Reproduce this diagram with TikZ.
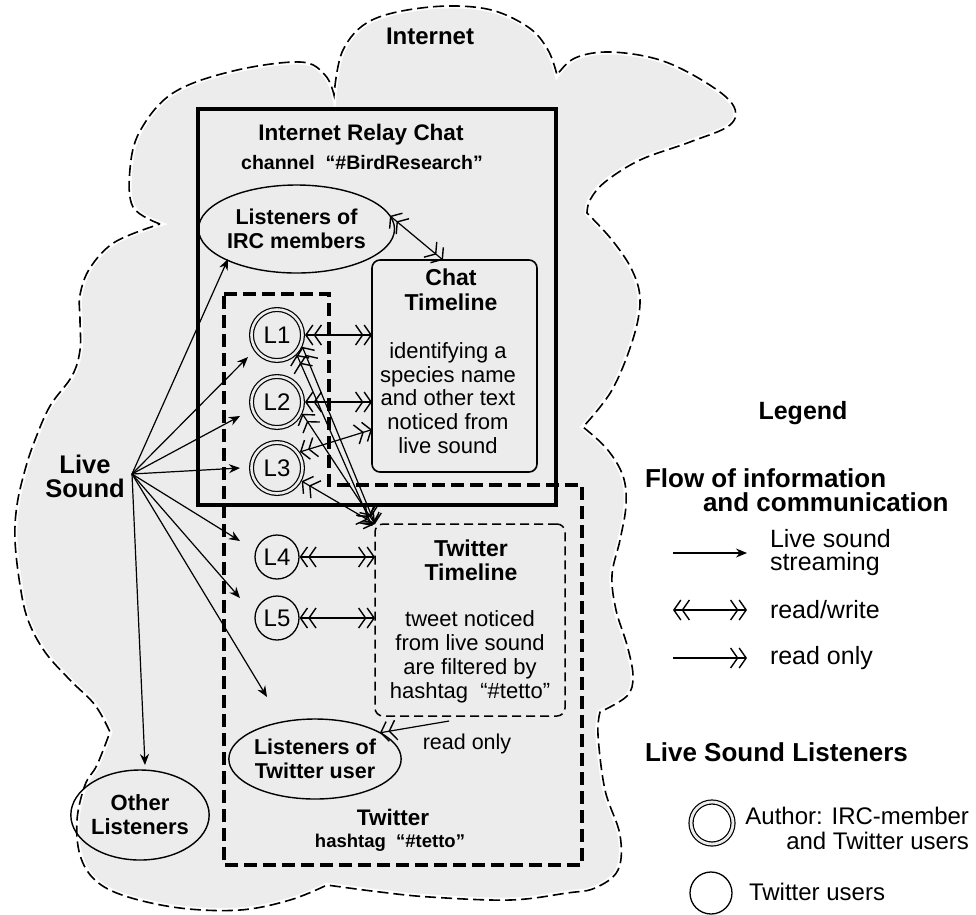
\documentclass[tikz,border=0pt]{standalone}
\usepackage{fontspec}
\setmainfont{Liberation Sans}
\usetikzlibrary{arrows.meta,calc,shapes.geometric}
\definecolor{cloudgrey}{RGB}{236,236,236}
\newcommand\myfs[2]{\fontsize{#1pt}{#2pt}\selectfont}
\begin{document}
\begin{tikzpicture}[x=1pt,y=-1pt,
  every node/.style={inner sep=0pt, outer sep=0pt},
  cloudline/.style={dash pattern=on 11pt off 5pt, line width=1.6pt},
  ircbox/.style={draw, rectangle, line width=3.2pt},
  twline/.style={dash pattern=on 13pt off 6pt, line width=3.3pt},
  ttbox/.style={draw, rectangle, rounded corners=8pt, dash pattern=on 9pt off 5pt, line width=1.5pt},
  chatbox/.style={draw, rectangle, rounded corners=8pt, line width=1.6pt},
  oval/.style={draw, ellipse, line width=1.4pt, align=center, font=\myfs{21.5}{23.5}\bfseries},
  auth/.style={draw, circle, line width=1.2pt, double=cloudgrey, double distance=2.6pt, minimum size=51pt, outer sep=2.5pt, font=\myfs{24}{26}},
  twc/.style={draw, circle, line width=1.3pt, minimum size=44pt, outer sep=0.6pt, font=\myfs{24}{26}},
  stream/.style={line width=1.2pt, -{Stealth[length=11pt,width=9pt]}},
  rw/.style={line width=1.2pt, {Straight Barb[length=7pt,width=20pt,line width=1.4pt] Straight Barb[length=7pt,width=20pt,line width=1.4pt]}-{Straight Barb[length=7pt,width=20pt,line width=1.4pt] Straight Barb[length=7pt,width=20pt,line width=1.4pt]}},
  ro/.style={line width=1.2pt, -{Straight Barb[length=7pt,width=20pt,line width=1.4pt] Straight Barb[length=7pt,width=20pt,line width=1.4pt]}},
  bt/.style={font=\myfs{#1}{24}\bfseries, align=center},
  rt/.style={font=\myfs{#1}{24}, align=center}
]
\useasboundingbox (0,0) rectangle (976,914);

% cloud
\path[fill=cloudgrey, postaction={draw=white, line width=5pt}, postaction={draw=black, cloudline}]
  plot[smooth, tension=0.6] coordinates {(160,224) (133,207) (130,169) (140,131) (173,93) (233,71) (300,62) (325,75) (334,95)}
  -- plot[smooth, tension=0.6] coordinates {(334,95) (343,50) (372,20) (430,7) (487,9) (528,27) (548,50) (557,75)}
  -- plot[smooth, tension=0.6] coordinates {(557,75) (575,58) (610,52) (660,60) (705,82) (733,105) (730,125) (690,142) (640,160) (605,182) (590,200) (587,213)}
  -- plot[smooth, tension=0.6] coordinates {(587,213) (612,240) (632,270) (640,300) (633,339) (612,390) (583,427)}
  -- plot[smooth, tension=0.6] coordinates {(583,427) (607,449) (623,476) (626,505) (620,540) (612,575) (616,610) (627,645) (633,676) (627,696) (600,712)}
  -- plot[smooth, tension=0.6] coordinates {(600,712) (598,735) (605,790) (620,835) (618,870) (595,888) (567,893) (510,900) (430,897) (380,892) (327,885)}
  -- plot[smooth, tension=0.6] coordinates {(327,885) (290,900) (240,910) (180,908) (125,896) (95,880) (80,855) (77,820) (85,785) (97,765) (110,732)}
  -- plot[smooth, tension=0.6] coordinates {(110,732) (95,705) (70,680) (45,652) (28,620) (20,585) (15,540) (17,505) (25,470) (35,440) (50,406) (72,376) (80,350) (80,320) (80,295) (90,268) (115,242) (160,224)}
  -- cycle;

\node[bt=24] (inet) at (430,36) {Internet};

% IRC box
\node[ircbox, minimum width=358pt, minimum height=396pt] (irc) at (377,307) {};
\node[bt=22.5] (irct) at (361,135) {Internet Relay Chat};
\node[bt=19.5] (ircc) at (362,163) {channel\ \ “\#BirdResearch”};
\node[oval, minimum width=161pt, minimum height=88pt] (ircell) at (296.5,229) {Listeners of\\IRC members};

% chat timeline
\node[chatbox, minimum width=165pt, minimum height=212pt] (chat) at (454.5,366) {};
\node[font=\myfs{23}{25}\bfseries, align=center] (chatt) at (451,290) {Chat\\Timeline};
\node[font=\myfs{22}{23.8}, align=center] (chatb) at (448,398) {identifying a\\species name\\and other text\\noticed from\\live sound};

% twitter region
\draw[twline] (224,294) -- (329,294) -- (329,485) -- (582,485) -- (582,865) -- (224,865) -- cycle;

% listeners
\node[auth] (L1) at (277,335) {L1};
\node[auth] (L2) at (277,402) {L2};
\node[auth] (L3) at (277,468) {L3};
\node[twc] (L4) at (277,557) {L4};
\node[twc] (L5) at (277,618) {L5};

% twitter timeline
\node[ttbox, minimum width=190pt, minimum height=192pt] (tt) at (470,620) {};
\node[font=\myfs{23}{24}\bfseries, align=center] (ttt) at (471,560) {Twitter\\Timeline};
\node[font=\myfs{22}{24}, align=center] (ttb) at (470,657) {tweet noticed\\from live sound\\are filtered by\\hashtag\ \ “\#tetto”};

\node[oval, minimum width=154pt, minimum height=80pt] (twell) at (315,759) {Listeners of\\Twitter user};
\node[rt=21.5] (rolab) at (467,744) {read only};
\node[bt=22.5] (twt) at (393,817) {Twitter};
\node[bt=18.5] (twh) at (390,843) {hashtag\ \ “\#tetto”};

\node[oval, font=\myfs{22}{24}\bfseries, minimum width=114pt, minimum height=90pt] (oth) at (140,815) {Other\\Listeners};

% live sound
\node[font=\myfs{25.5}{24}\bfseries, align=center] (ls) at (85,476) {Live\\Sound};
\coordinate (hub) at (132,474);
\coordinate (eIRC) at (228,259);
\coordinate (eL1) at (248,357);
\coordinate (eL2) at (240,416);
\coordinate (eL3) at (240,468);
\coordinate (eL4) at (240,541);
\coordinate (eL5) at (240,598);
\coordinate (eTW) at (267,697);
\coordinate (eOT) at (145,765);
\foreach \e in {eIRC,eL1,eL2,eL3,eL4,eL5,eTW,eOT}
  \draw[stream] (hub) -- (\e);

% read/write connectors
\coordinate (chattop) at ($(chat.north west)!0.43!(chat.north east)$);
\coordinate (chatlow) at ($(chat.south west)!0.2!(chat.north west)$);
\draw[rw] (ircell.8) -- (chattop);
\draw[rw] (L1.east) -- (L1.east -| chat.west);
\draw[rw] (L2.east) -- (L2.east -| chat.west);
\draw[rw] (L3.35) -- (chatlow);
\draw[rw] (L1.-25) -- (tt.north west);
\draw[rw] (L1.-45) -- ([xshift=-3pt,yshift=-2pt]tt.north west);
\draw[rw] (L2.-25) -- (tt.north west);
\draw[rw] (L3.-28) -- (tt.north west);
\draw[rw] (L4.east) -- (L4.east -| tt.west);
\draw[rw] (L5.east) -- (L5.east -| tt.west);
\coordinate (ttout) at ($(tt.south west)!0.39!(tt.south east)$);
\draw[ro] ([yshift=-5pt]ttout) -- (twell.22);

% legend
\node[font=\myfs{25}{26}\bfseries] (leg) at (803,413) {Legend};
\node[font=\myfs{26}{26}\bfseries, anchor=west] (flow1) at (645,478) {Flow of information};
\node[font=\myfs{26}{26}\bfseries, anchor=west] (flow2) at (703,502) {and communication};
\coordinate (s1a) at (673,553); \coordinate (s1b) at (747,553);
\coordinate (s2a) at (673,610); \coordinate (s2b) at (747,610);
\coordinate (s3a) at (673,658); \coordinate (s3b) at (747,658);
\draw[stream] (s1a) -- (s1b);
\draw[rw] (s2a) -- (s2b);
\draw[ro] (s3a) -- (s3b);
\node[font=\myfs{25}{23}, align=left, anchor=west] (s1l) at (770,553) {Live sound\\streaming};
\node[font=\myfs{25}{23}, anchor=west] (s2l) at (770,610) {read/write};
\node[font=\myfs{25}{23}, anchor=west] (s3l) at (770,658) {read only};
\node[font=\myfs{26}{26}\bfseries, anchor=west] (lsl) at (645,752) {Live Sound Listeners};
\node[auth, minimum size=42pt, double distance=2.8pt] (lg1) at (712,823) {};
\node[twc, minimum size=42pt] (lg2) at (711,893) {};
\node[font=\myfs{24}{25}, align=right, anchor=east] (lg1l) at (969,828) {Author: IRC-member\\and Twitter users};
\node[font=\myfs{24}{25}, anchor=west] (lg2l) at (749,892) {Twitter users};
\end{tikzpicture}
\end{document}
